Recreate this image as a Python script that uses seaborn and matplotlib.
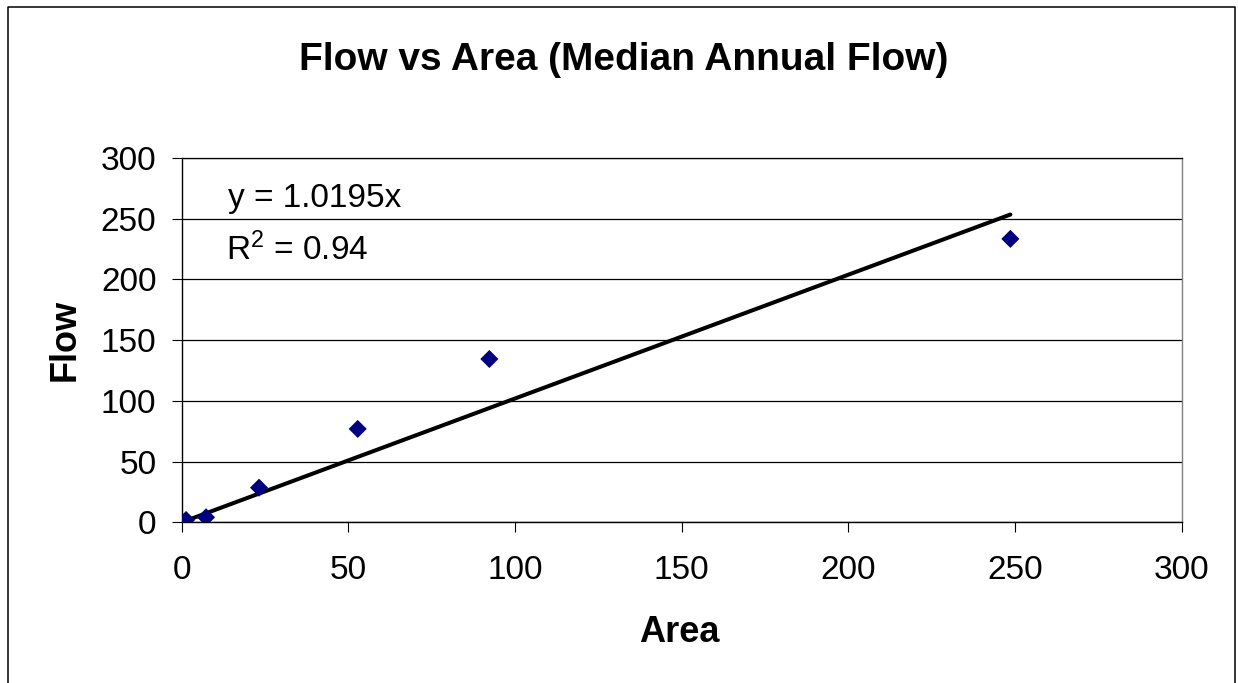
import numpy as np
import pandas as pd
import matplotlib
matplotlib.use("Agg")
import matplotlib.pyplot as plt
from matplotlib.lines import Line2D
import seaborn as sns

# ---- data ----
area = [1.3, 7.3, 23.2, 52.8, 92.3, 248.6]
flow = [1.9, 4.1, 28.5, 76.9, 134.5, 233.4]
slope = 1.0195
r_squared = 0.94
x_ticks = [0, 50, 100, 150, 200, 250, 300]
y_ticks = [0, 50, 100, 150, 200, 250, 300]
title = "Flow vs Area (Median Annual Flow)"
x_label = "Area"
y_label = "Flow"

sns.set_theme(style="white")
plt.rcParams['font.family'] = ['Liberation Sans', 'DejaVu Sans']
plt.rcParams['text.color'] = 'black'
plt.rcParams['mathtext.fontset'] = 'custom'
plt.rcParams['mathtext.rm'] = 'Liberation Sans'
plt.rcParams['mathtext.it'] = 'Liberation Sans'
plt.rcParams['mathtext.bf'] = 'Liberation Sans:bold'

W, H = 1238, 683
fig = plt.figure(figsize=(W / 100, H / 100), dpi=100)
fig.patch.set_facecolor('white')

ax_l, ax_r, ax_t, ax_b = 181.7, 1181.7, 158.0, 522.3
ax = fig.add_axes([ax_l / W, 1 - ax_b / H, (ax_r - ax_l) / W, (ax_b - ax_t) / H])
ax.set_facecolor('white')

df = pd.DataFrame({"Area": area, "Flow": flow})
trend = pd.DataFrame({"Area": [0.0, max(area)]})
trend["Flow"] = slope * trend["Area"]

sns.lineplot(data=trend, x="Area", y="Flow", color="black", linewidth=2.9,
             ax=ax, zorder=3)
sns.scatterplot(data=df, x="Area", y="Flow", marker="D", s=85, color="#000080",
                edgecolor="none", linewidth=0, ax=ax, zorder=4)

ax.set_xlim(0, 300)
ax.set_ylim(0, 300)
ax.set_xticks(x_ticks)
ax.set_yticks(y_ticks)
ax.set_xticklabels([str(t) for t in x_ticks], fontsize=24, color='black')
ax.set_yticklabels([str(t) for t in y_ticks], fontsize=24, color='black')
ax.yaxis.grid(True, color='black', linewidth=0.9)
ax.xaxis.grid(False)
ax.set_axisbelow(True)

for side in ['left', 'bottom']:
    ax.spines[side].set_color('black')
    ax.spines[side].set_linewidth(1.0)
ax.spines['top'].set_color('black')
ax.spines['top'].set_linewidth(0.9)
ax.spines['right'].set_color('#808080')
ax.spines['right'].set_linewidth(1.0)

ax.tick_params(axis='x', direction='out', length=7.2, width=0.8, color='black',
               pad=16, bottom=True)
ax.tick_params(axis='y', direction='out', length=7.2, width=0.8, color='black',
               pad=11, left=True)
ax.set_xlabel("")
ax.set_ylabel("")

ax.text(0.046, 0.8655, f"y = {slope}x", transform=ax.transAxes, fontsize=24,
        va='baseline', ha='left', color='black')
ax.text(0.044, 0.72, f"R$^2$ = {r_squared}", transform=ax.transAxes, fontsize=24,
        va='baseline', ha='left', color='black')

fig.text(624 / W, 1 - 70 / H, title, fontsize=28, fontweight='bold',
         ha='center', va='baseline', color='black')
fig.text(679 / W, 1 - 641.7 / H, x_label, fontsize=26, fontweight='bold',
         ha='center', va='baseline', color='black')
fig.text(75 / W, 1 - 340 / H, y_label, fontsize=26, fontweight='bold',
         ha='center', va='baseline', rotation=90, rotation_mode='anchor',
         color='black')

# outer chart frame (bottom edge lies outside the image)
fig.add_artist(Line2D([8 / W, 8 / W, 1235 / W, 1235 / W],
                      [-0.05, 1 - 7 / H, 1 - 7 / H, -0.05],
                      transform=fig.transFigure, color='black', linewidth=1.1))

fig.savefig("out.png", dpi=100)
